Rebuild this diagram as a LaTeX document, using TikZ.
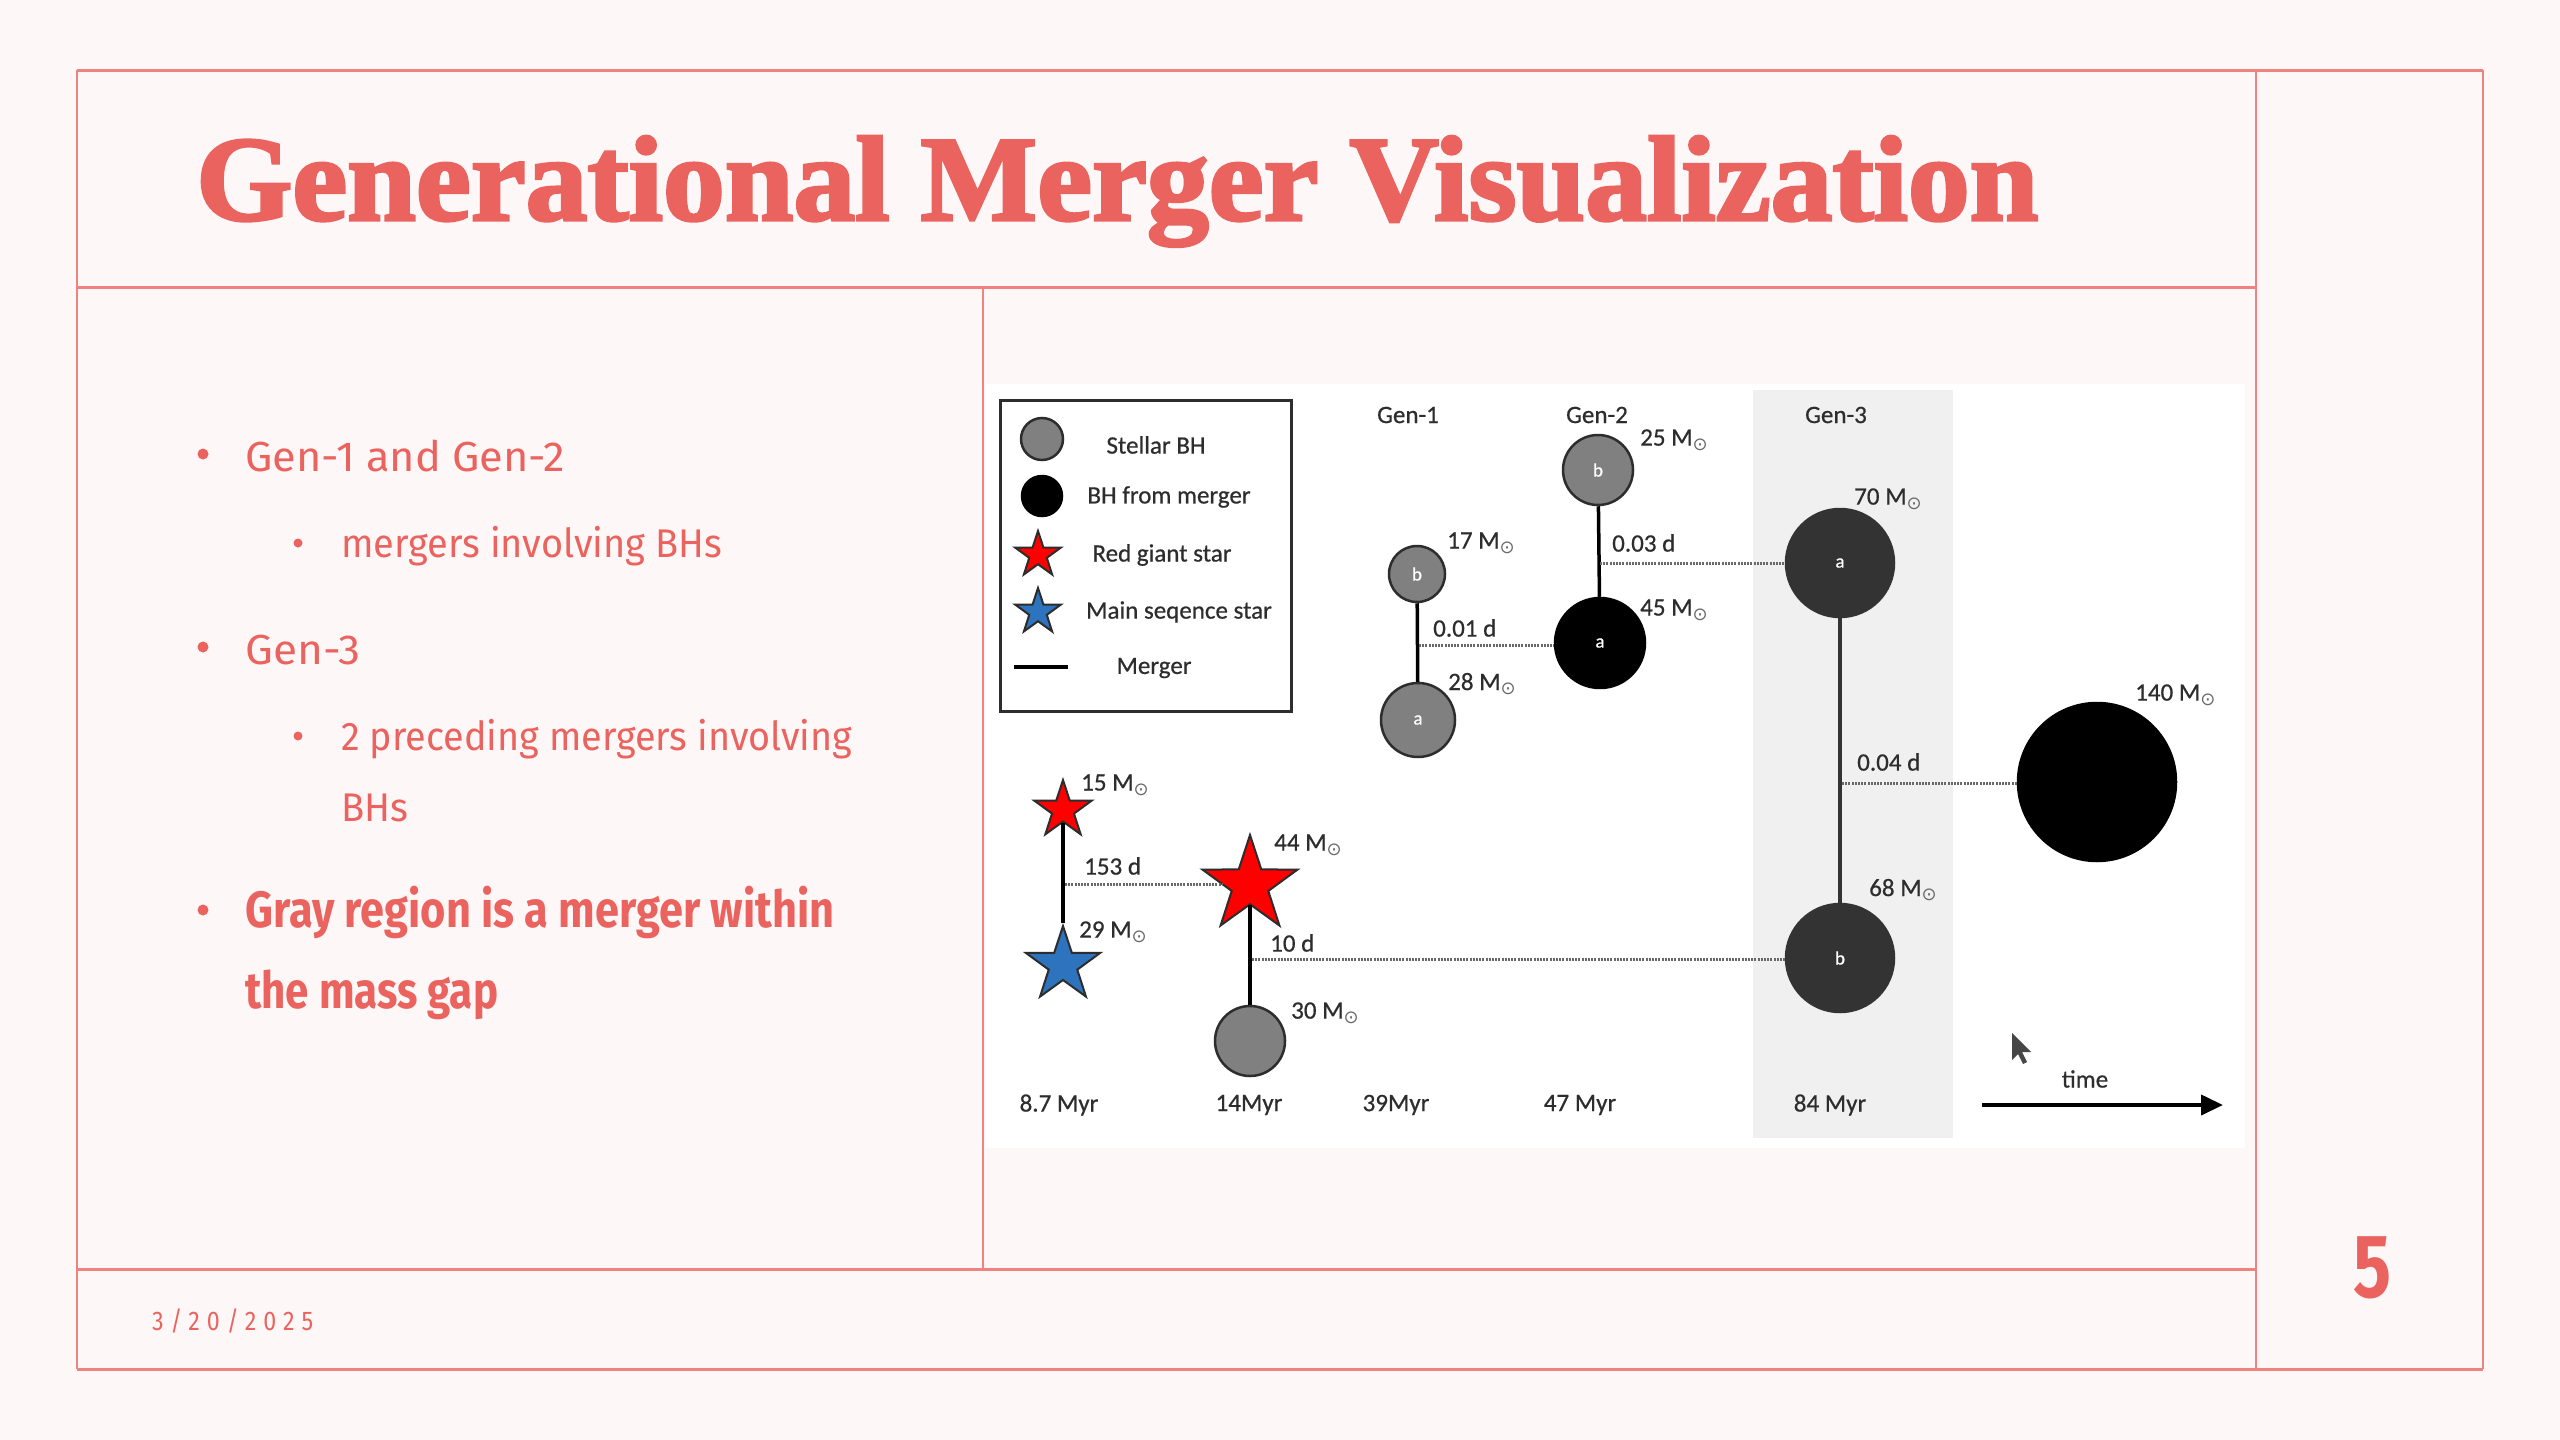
\documentclass[tikz,border=0pt]{standalone}
\usepackage{fontspec}
\usepackage{graphicx}
\usetikzlibrary{shapes.geometric,arrows.meta,calc}
\setmainfont{Fira Sans}
\newfontfamily\titlefont[BoldFeatures={FakeBold=2.5}]{Liberation Serif}
\newfontfamily\figfont[FakeBold=0.6]{Carlito}
\newfontfamily\symfont{DejaVu Sans}
\newfontfamily\datefont[LetterSpace=30]{Fira Sans}
\definecolor{bgc}{RGB}{253,248,247}
\definecolor{framec}{RGB}{240,130,128}
\definecolor{slidec}{RGB}{234,99,95}
\definecolor{figtext}{RGB}{45,45,45}
\definecolor{edgec}{RGB}{45,45,45}
\definecolor{bhgray}{RGB}{128,128,128}
\definecolor{bhthree}{RGB}{51,51,51}
\definecolor{gthreebg}{RGB}{240,240,240}
\definecolor{starred}{RGB}{255,0,0}
\definecolor{starblue}{RGB}{45,115,190}
\definecolor{dotc}{RGB}{105,105,105}
\definecolor{cursorc}{RGB}{70,70,70}
\newcommand{\fitw}[2]{\resizebox{#1}{\height}{#2}}
\newcommand{\Msun}{M\raisebox{-0.4ex}{\scalebox{0.72}{\color{dotc}\symfont ⊙}}}
\tikzset{
  frameh/.style={draw=framec, line width=3pt},
  framev/.style={draw=framec, line width=1.6pt},
  slidetxt/.style={text=slidec, inner sep=0pt, anchor=base west},
  bul/.style={circle, fill=slidec, inner sep=0pt, minimum size=11pt},
  subbul/.style={circle, fill=slidec, inner sep=0pt, minimum size=9pt},
  figtxt/.style={text=figtext, inner sep=0pt, font=\figfont\fontsize{25}{30}\selectfont},
  lbl/.style={figtxt, anchor=west},
  bhbase/.style={circle, inner sep=0pt, line width=2.5pt, text=white, font=\figfont\fontsize{19}{22}\selectfont},
  bhs/.style={bhbase, draw=edgec, fill=bhgray},
  bhm/.style={bhbase, draw=black, fill=black},
  bhg/.style={bhbase, draw=bhthree, fill=bhthree},
  starbase/.style={star, star points=5, star point ratio=2.6, draw=edgec, line width=2pt, inner sep=0pt},
  redstar/.style={starbase, fill=starred},
  bluestar/.style={starbase, fill=starblue},
  merge/.style={line width=3.5pt, draw=black},
  orbit/.style={line width=3pt, draw=dotc, dash pattern=on 2pt off 1.2pt},
}
\begin{document}
\begin{tikzpicture}[x=1pt,y=-1pt]
\useasboundingbox (0,0) rectangle (2560,1440);
\fill[bgc] (0,0) rectangle (2560,1440);
% slide frame
\draw[framev] (77,70) -- (77,1369);
\draw[framev] (2483,70) -- (2483,1369);
\draw[framev] (2256,70) -- (2256,1369);
\draw[framev] (983,287) -- (983,1269);
\draw[frameh] (77,70) -- (2483,70);
\draw[frameh] (77,287) -- (2256,287);
\draw[frameh] (77,1269) -- (2256,1269);
\draw[frameh] (77,1369) -- (2483,1369);
% title
\node[slidetxt] (title) at (196,220) {\fitw{1842pt}{\titlefont\fontsize{121}{140}\selectfont\bfseries Generational Merger Visualization}};
% bullets
\node[bul] (b1) at (203,454) {};
\node[slidetxt] (t1) at (245,471) {\fitw{320pt}{\fontsize{42}{50}\selectfont Gen-1 and Gen-2}};
\node[subbul] (b2) at (298,543) {};
\node[slidetxt] (t2) at (341,557) {\fitw{381pt}{\fontsize{40}{48}\selectfont mergers involving BHs}};
\node[bul] (b3) at (203,647) {};
\node[slidetxt] (t3) at (245,664) {\fitw{115pt}{\fontsize{42}{50}\selectfont Gen-3}};
\node[subbul] (b4) at (298,736) {};
\node[slidetxt] (t4) at (341,750) {\fitw{511pt}{\fontsize{40}{48}\selectfont 2 preceding mergers involving}};
\node[slidetxt] (t5) at (341,821) {\fitw{67pt}{\fontsize{40}{48}\selectfont BHs}};
\node[bul] (b5) at (203,910) {};
\node[slidetxt] (t6) at (245,927) {\fitw{589pt}{\fontsize{51}{60}\selectfont\bfseries Gray region is a merger within}};
\node[slidetxt] (t7) at (245,1008) {\fitw{253pt}{\fontsize{51}{60}\selectfont\bfseries the mass gap}};
% footer
\node[slidetxt] (date) at (152,1330) {\fitw{161pt}{\datefont\fontsize{27}{30}\selectfont 3/20/2025}};
\node[slidetxt] (page) at (2353,1297) {\fitw{38pt}{\fontsize{90}{100}\selectfont\bfseries 5}};
% figure background
\fill[white] (986,384) rectangle (2245,1148);
\fill[gthreebg] (1753,390) rectangle (1953,1138);
% legend
\node[draw=edgec, line width=3pt, minimum width=291pt, minimum height=311pt, inner sep=0pt] (legend) at (1145.5,555.5) {};
\node[bhs, minimum size=42pt] (lc1) at (1042,439) {};
\node[bhm, minimum size=40pt] (lc2) at (1042,496) {};
\node[redstar, minimum size=48pt] (ls1) at (1038,555) {};
\node[bluestar, minimum size=48pt] (ls2) at (1038,612) {};
\coordinate (lm0) at (1014,667);
\coordinate (lm1) at (1068,667);
\draw[merge] (lm0) -- (lm1);
\node[figtxt] (lt1) at (1156,445) {Stellar BH};
\node[figtxt] (lt2) at (1169,497) {BH from merger};
\node[figtxt] (lt3) at (1162,555) {Red giant star};
\node[figtxt] (lt4) at (1179,612) {Main seqence star};
\node[figtxt] (lt5) at (1154,668) {Merger};
% generation headers
\node[figtxt] (gen1) at (1408,415) {Gen-1};
\node[figtxt] (gen2) at (1597,415) {Gen-2};
\node[figtxt] (gen3) at (1836,415) {Gen-3};
% bodies
\node[bhs, minimum size=56pt] (g1b) at (1417,574) {b};
\node[bhs, minimum size=74pt] (g1a) at (1418,720) {a};
\node[bhs, minimum size=70pt] (g2b) at (1598,470) {b};
\node[bhm, minimum size=90pt] (g2a) at (1600,643) {a};
\node[bhg, minimum size=108pt] (g3a) at (1840,563) {a};
\node[bhg, minimum size=108pt] (g3b) at (1840,958) {b};
\node[bhm, minimum size=158pt] (big) at (2097,782) {};
\node[redstar, minimum size=60pt] (s15) at (1063,810) {};
\node[bluestar, minimum size=78pt] (s29) at (1063,965) {};
\node[redstar, minimum size=100pt] (s44) at (1250,885) {};
\node[bhs, minimum size=70pt] (c30) at (1250,1041) {};
% mergers
\draw[merge] (g1b) -- (g1a);
\draw[merge] (g2b) -- (g2a);
\draw[merge, draw=bhthree, line width=4pt] (g3a) -- (g3b);
\draw[merge] (s15) -- (s29);
\draw[merge] (s44) -- (c30);
% orbital separations
\coordinate (o1) at (1419,645);
\coordinate (o2) at (1600,563);
\coordinate (o3) at (1842,783);
\coordinate (o4) at (1065,884);
\coordinate (o5) at (1252,959);
\draw[orbit] (o1) -- (o1 -| g2a.west);
\draw[orbit] (o2) -- (o2 -| g3a.west);
\draw[orbit] (o3) -- (o3 -| big.west);
\draw[orbit] (o4) -- (o4 -| s44.west);
\draw[orbit] (o5) -- (o5 -| g3b.west);
% labels
\node[lbl] (d1) at (1433,628) {0.01 d};
\node[lbl] (d2) at (1612,543) {0.03 d};
\node[lbl] (d3) at (1857,762) {0.04 d};
\node[lbl] (d4) at (1084,866) {153 d};
\node[lbl] (d5) at (1270,943) {10 d};
\node[lbl] (m17) at (1447,543) {17 \Msun};
\node[lbl] (m28) at (1448,684) {28 \Msun};
\node[lbl] (m25) at (1640,440) {25 \Msun};
\node[lbl] (m45) at (1640,610) {45 \Msun};
\node[lbl] (m70) at (1854,499) {70 \Msun};
\node[lbl] (m68) at (1869,890) {68 \Msun};
\node[lbl] (m140) at (2135,695) {140 \Msun};
\node[lbl] (m15) at (1081,785) {15 \Msun};
\node[lbl] (m29) at (1079,932) {29 \Msun};
\node[lbl] (m44) at (1274,845) {44 \Msun};
\node[lbl] (m30) at (1291,1013) {30 \Msun};
% times
\node[figtxt] (y1) at (1059,1105) {8.7 Myr};
\node[figtxt] (y2) at (1249,1105) {14Myr};
\node[figtxt] (y3) at (1396,1105) {39Myr};
\node[figtxt] (y4) at (1580,1105) {47 Myr};
\node[figtxt] (y5) at (1830,1105) {84 Myr};
\node[figtxt] (time) at (2085,1079) {time};
\coordinate (ta) at (1982,1105);
\coordinate (tb) at (2223,1105);
\draw[line width=4pt, -{Triangle[length=22pt,width=20pt]}] (ta) -- (tb);
% mouse pointer
\fill[cursorc] (2012,1033) -- ++(0,27) -- ++(6,-6) -- ++(5,10) -- ++(4,-2) -- ++(-5,-10) -- ++(9,0) -- cycle;
\end{tikzpicture}
\end{document}
